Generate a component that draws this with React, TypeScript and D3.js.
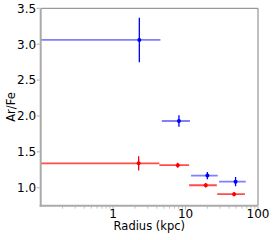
import React from "react";
import * as d3 from "d3";

const radiusBlue = [2.3, 8.1, 20.0, 49.0];
const radiusBlueLo = [0.01, 4.7, 11.9, 29.0];
const radiusBlueHi = [4.5, 11.5, 27.8, 67.8];
const arFeBlue = [3.06, 1.93, 1.17, 1.085];
const arFeBlueErr = [0.31, 0.08, 0.05, 0.065];

const radiusRed = [2.25, 7.8, 19.0, 46.8];
const radiusRedLo = [0.01, 4.35, 11.2, 27.3];
const radiusRedHi = [4.35, 11.2, 27.0, 66.0];
const arFeRed = [1.34, 1.315, 1.035, 0.91];
const arFeRedErr = [0.1, 0.035, 0.03, 0.03];

const xTicks = [1, 10, 100];
const yTicks = [1.0, 1.5, 2.0, 2.5, 3.0, 3.5];

const W = 274, H = 240;
const L = 40.7, R = 258, T = 8.3, B = 205.7;
const FONT = "DejaVu Sans, sans-serif";

export default function App() {
  const x = d3.scaleLog().domain([0.1, 100]).range([L, R]);
  const y = d3.scaleLinear().domain([0.75, 3.5]).range([B, T]);
  const minor: number[] = [];
  [0.1, 1, 10].forEach((dec) => {
    for (let k = 2; k <= 9; k++) minor.push(dec * k);
  });

  const series = [
    { r: radiusBlue, lo: radiusBlueLo, hi: radiusBlueHi, v: arFeBlue, e: arFeBlueErr, c: "#0000ff", hOp: 0.5 },
    { r: radiusRed, lo: radiusRedLo, hi: radiusRedHi, v: arFeRed, e: arFeRedErr, c: "#ff0000", hOp: 0.7 },
  ];

  return (
    <svg width={W} height={H} style={{ position: "absolute", left: 0, top: 0, background: "#fff" }} fontFamily={FONT}>
      <defs>
        <clipPath id="plot">
          <rect x={L} y={T} width={R - L} height={B - T} />
        </clipPath>
      </defs>
      <g clipPath="url(#plot)">
        {series.map((s, si) =>
          s.r.map((rv, i) => (
            <g key={`${si}-${i}`}>
              <line x1={x(s.lo[i])} x2={x(s.hi[i])} y1={y(s.v[i])} y2={y(s.v[i])} stroke={s.c} strokeOpacity={s.hOp} strokeWidth={1.8} />
              <line x1={x(rv)} x2={x(rv)} y1={y(s.v[i] - s.e[i])} y2={y(s.v[i] + s.e[i])} stroke={s.c} strokeWidth={1.3} />
              <circle cx={x(rv)} cy={y(s.v[i])} r={2} fill={s.c} />
            </g>
          ))
        )}
      </g>
      {/* spines */}
      <line x1={L} x2={R} y1={T} y2={T} stroke="#808080" strokeWidth={1} />
      <line x1={R} x2={R} y1={T} y2={B} stroke="#808080" strokeWidth={1} />
      <line x1={L} x2={L} y1={T} y2={B + 1} stroke="#aaaaaa" strokeWidth={2} />
      <line x1={L - 1} x2={R} y1={B} y2={B} stroke="#aaaaaa" strokeWidth={2} />
      {/* x ticks */}
      {minor.map((m) => (
        <line key={m} x1={x(m)} x2={x(m)} y1={B + 1} y2={B + 3} stroke="#999" strokeWidth={0.6} />
      ))}
      {xTicks.map((t) => (
        <g key={t}>
          <line x1={x(t)} x2={x(t)} y1={B + 1} y2={B + 4} stroke="#999" strokeWidth={0.8} />
          <text x={x(t)} y={B + 12.5} fontSize={12} textAnchor="middle" fill="#000">{t}</text>
        </g>
      ))}
      {/* y ticks */}
      {yTicks.map((t) => (
        <g key={t}>
          <line x1={L - 4} x2={L - 1} y1={y(t)} y2={y(t)} stroke="#999" strokeWidth={0.8} />
          <text x={L - 4.5} y={y(t)} dy="0.36em" fontSize={12} textAnchor="end" fill="#000">{t.toFixed(1)}</text>
        </g>
      ))}
      <text x={(L + R) / 2} y={B + 24.5} fontSize={11.5} textAnchor="middle" fill="#000">Radius (kpc)</text>
      <text transform={`translate(15,${(T + B) / 2}) rotate(-90)`} fontSize={11.5} textAnchor="middle" fill="#000">Ar/Fe</text>
    </svg>
  );
}
